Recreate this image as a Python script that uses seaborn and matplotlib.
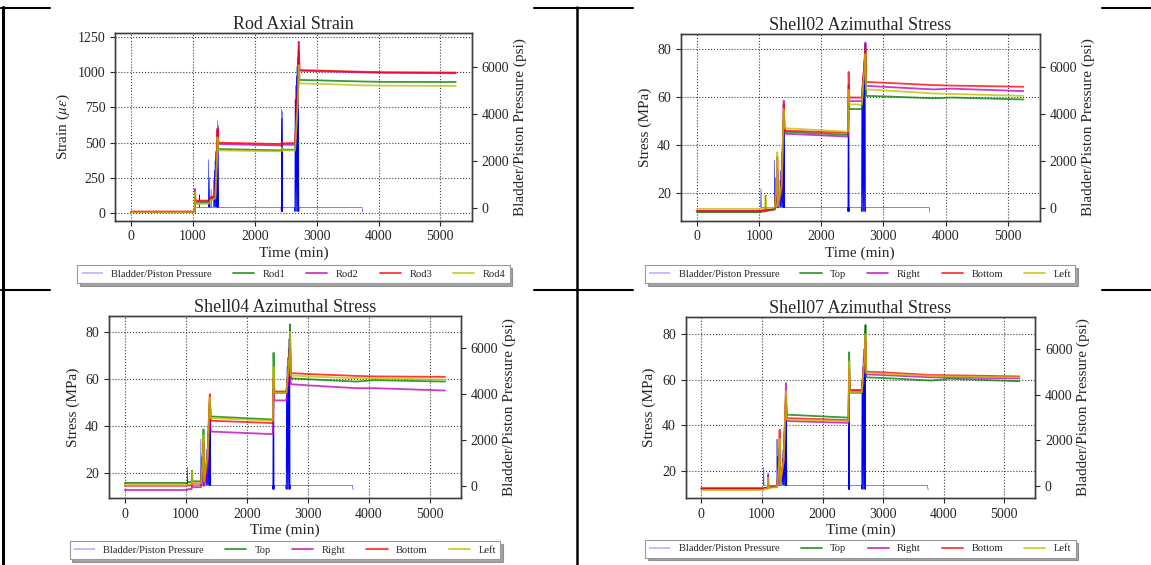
import numpy as np
import pandas as pd
import matplotlib
matplotlib.use("Agg")
import matplotlib.pyplot as plt
from matplotlib.lines import Line2D
import seaborn as sns

# time axis shared by all gauge traces (min)
time_min = [0, 1028, 1032, 1040, 1098, 1102, 1110, 1250, 1285, 1292, 1300, 1360, 1388,
            1395, 1410, 2430, 2440, 2452, 2650, 2700, 2710, 2722, 3000, 3800, 4100, 5250]

# Rod axial strain (micro strain)
rod1 = [8, 8, 110, 70, 70, 80, 72, 75, 90, 100, 95, 110, 400,
        560, 455, 445, 470, 450, 450, 850, 1080, 945, 942, 933, 931, 930]
rod2 = [8, 8, 170, 82, 82, 90, 83, 85, 100, 110, 105, 125, 450,
        590, 490, 480, 500, 485, 485, 900, 1150, 1010, 1007, 998, 995, 992]
rod3 = [12, 12, 130, 88, 88, 95, 88, 90, 105, 115, 110, 135, 480,
        600, 500, 490, 510, 495, 498, 950, 1215, 1015, 1012, 1002, 1000, 997]
rod4 = [7, 7, 150, 65, 65, 75, 66, 68, 85, 95, 90, 105, 380,
        540, 445, 438, 465, 445, 445, 820, 1050, 920, 917, 906, 904, 902]

# Shell02 azimuthal stress (MPa)
s02_top = [11.9, 11.9, 12.0, 12.2, 12.2, 14.0, 12.4, 13.0, 20.0, 28.0, 13.8, 20.0, 42.0,
           50.0, 45.5, 44.2, 60.0, 55.0, 55.0, 75.0, 82.0, 60.5, 60.3, 59.5, 59.8, 59.0]
s02_right = [12.5, 12.5, 12.6, 12.7, 12.7, 14.0, 12.8, 13.2, 22.0, 30.0, 14.0, 21.0, 45.0,
             58.5, 44.7, 43.5, 65.0, 58.3, 58.3, 77.0, 82.8, 64.7, 64.3, 63.2, 63.5, 62.5]
s02_bottom = [12.3, 12.3, 12.4, 12.6, 12.6, 14.0, 12.7, 13.3, 24.0, 35.0, 14.2, 22.0, 46.0,
              57.0, 46.0, 45.0, 70.5, 59.8, 59.8, 76.0, 80.0, 66.3, 66.0, 65.0, 64.8, 64.3]
s02_left = [13.3, 13.3, 13.4, 13.4, 13.4, 19.0, 13.5, 13.8, 25.0, 37.0, 14.5, 23.0, 48.0,
            55.0, 47.0, 45.5, 63.0, 57.0, 56.8, 74.0, 78.0, 63.2, 62.8, 61.5, 61.3, 60.5]

# Shell04 azimuthal stress (MPa)
s04_top = [15.8, 15.8, 15.9, 16.2, 16.2, 21.0, 16.5, 16.5, 30.0, 38.5, 17.0, 28.0, 48.0,
           50.0, 44.0, 42.7, 71.0, 54.0, 54.0, 70.0, 83.1, 60.2, 59.8, 58.8, 59.4, 58.8]
s04_right = [12.8, 12.8, 12.9, 13.2, 13.2, 14.5, 14.0, 14.0, 20.0, 22.0, 14.5, 22.0, 45.0,
             48.0, 37.6, 36.5, 55.0, 50.8, 50.8, 65.0, 75.0, 57.7, 57.2, 56.0, 56.0, 55.0]
s04_bottom = [14.6, 14.6, 14.7, 14.8, 14.8, 17.0, 15.5, 15.5, 25.0, 33.0, 16.0, 26.0, 50.0,
              53.5, 42.2, 41.2, 60.0, 54.6, 54.6, 68.0, 76.0, 62.4, 62.0, 61.2, 61.0, 60.8]
s04_left = [14.9, 14.9, 15.0, 15.2, 15.2, 20.5, 15.6, 15.6, 27.0, 36.0, 16.5, 27.0, 49.0,
            52.0, 43.3, 42.2, 65.0, 54.0, 54.0, 70.0, 80.0, 61.4, 61.0, 60.2, 60.2, 59.6]

# Shell07 azimuthal stress (MPa)
s07_top = [12.0, 12.0, 12.1, 12.3, 12.3, 13.5, 12.6, 13.0, 22.0, 30.0, 14.0, 25.0, 46.0,
           50.0, 44.6, 43.3, 72.0, 54.2, 54.2, 72.0, 84.0, 61.0, 60.7, 59.6, 60.4, 59.3]
s07_right = [12.2, 12.2, 12.3, 12.4, 12.4, 18.0, 12.7, 13.0, 22.0, 28.0, 14.0, 24.0, 47.0,
             58.5, 41.8, 41.0, 62.0, 55.0, 55.0, 72.0, 78.0, 62.3, 62.0, 61.0, 61.0, 60.5]
s07_bottom = [12.3, 12.3, 12.4, 12.5, 12.5, 14.0, 12.8, 13.2, 25.0, 38.0, 14.2, 25.0, 48.0,
              52.0, 43.1, 42.2, 65.0, 55.5, 55.5, 72.0, 77.0, 63.5, 63.2, 62.0, 61.9, 61.4]
s07_left = [11.5, 11.5, 11.6, 12.0, 12.0, 17.0, 12.4, 12.8, 24.0, 34.0, 14.0, 25.0, 48.0,
            55.0, 42.5, 41.7, 68.0, 54.5, 54.5, 72.0, 80.0, 63.0, 62.6, 61.6, 61.4, 61.0]

# bladder / piston pressure (psi), same record on every panel
press_time = [1025, 1030, 1034, 1098, 1101, 1105, 1245, 1249, 1253, 1262, 1266, 1270,
              1288, 1292, 1296, 1330, 1335, 1340, 1345, 1350, 1355, 1360, 1365, 1370,
              1375, 1380, 1384, 1388, 1392, 1396, 1400, 1404, 1408, 1412,
              2422, 2426, 2430, 2434, 2438, 2442, 2446, 2450, 2454,
              2640, 2645, 2650, 2655, 2660, 2665, 2670, 2675, 2680, 2685, 2690, 2695,
              2700, 2704, 2708, 2712, 2716, 3735, 3745]
press_psi = [20, 820, 20, 20, 560, 20, 20, 2050, 20, 20, 1300, 20,
             20, 800, 20, 20, 1200, 20, 1600, 20, 2000, 20, 2400, 20,
             2800, 20, 3100, 20, 3400, 20, 3700, 20, 3500, 20,
             20, -150, 4200, -150, 3800, -150, 4100, -150, 20,
             20, -150, 4600, -150, 5200, -150, 5600, -150, 6000, -150, 6400, -150,
             6800, -150, 7050, -150, 20, 20, -180]

# plain matplotlib colours written as hex (seaborn remaps the one-letter codes)
gauge_colors = ["#008000", "#bf00bf", "#ff0000", "#bfbf00"]
press_color = "#0000ff"
shell_names = ["Top", "Right", "Bottom", "Left"]

sns.set_theme(style="ticks", rc={"axes.edgecolor": "0.25", "axes.linewidth": 1.0,
                                 "xtick.color": "0.15", "ytick.color": "0.15"})
plt.rcParams["font.family"] = ["Liberation Serif", "DejaVu Serif"]
plt.rcParams["mathtext.fontset"] = "stix"

W, H = 1151, 565
fig = plt.figure(figsize=(W / 100, H / 100), dpi=100)
fig.patch.set_facecolor("white")


def px_rect(left, top, right, bottom):
    return [left / W, 1 - bottom / H, (right - left) / W, (bottom - top) / H]


def draw_panel(rect, title, ylabel, names, values, yticks, leg_y):
    ax = fig.add_axes(rect)
    ax2 = ax.twinx()
    sns.lineplot(x=press_time, y=press_psi, ax=ax2, color=press_color, lw=0.35,
                 estimator=None, sort=False)
    df = pd.DataFrame({"Time": time_min * len(names),
                       "Value": sum(values, []),
                       "Series": np.repeat(names, len(time_min))})
    sns.lineplot(data=df, x="Time", y="Value", hue="Series", hue_order=names,
                 palette=dict(zip(names, gauge_colors)), ax=ax, estimator=None,
                 sort=False, lw=1.3, alpha=0.78, legend=False)
    ax.set_zorder(ax2.get_zorder() + 1)
    ax.patch.set_visible(False)

    ax.grid(True, linestyle=":", color="0.25", linewidth=0.8)
    ax2.grid(False)
    ax.set_xticks([0, 1000, 2000, 3000, 4000, 5000])
    ax.set_yticks(yticks)
    ax2.set_yticks([0, 2000, 4000, 6000])
    for a in (ax, ax2):
        a.tick_params(labelsize=10, length=3.5, width=0.8)
        for s in a.spines.values():
            s.set_visible(True)
    ax.set_title(title, fontsize=13, pad=3)
    ax.set_xlabel("Time (min)", fontsize=11, labelpad=2)
    ax.set_ylabel(ylabel, fontsize=11)
    ax2.set_ylabel("Bladder/Piston Pressure (psi)", fontsize=11, labelpad=3)

    handles = ax2.get_lines()[:1] + ax.get_lines()[:4]
    labels = ["Bladder/Piston Pressure"] + names
    leg = ax.legend(handles, labels, loc="upper center", bbox_to_anchor=(0.5, leg_y),
                    ncol=5, fontsize=7.6, shadow=True, fancybox=False, framealpha=1,
                    edgecolor="0.6", borderaxespad=0)
    leg.get_frame().set_linewidth(0.8)
    return ax


draw_panel(px_rect(115, 33.3, 472, 220.7), "Rod Axial Strain", r"Strain ($\mu\varepsilon$)",
           ["Rod1", "Rod2", "Rod3", "Rod4"], [rod1, rod2, rod3, rod4],
           [0, 250, 500, 750, 1000, 1250], -0.236)
draw_panel(px_rect(680.7, 34, 1039.6, 220.7), "Shell02 Azimuthal Stress", "Stress (MPa)",
           shell_names, [s02_top, s02_right, s02_bottom, s02_left],
           [20, 40, 60, 80], -0.237)
draw_panel(px_rect(108.7, 316, 461, 498.3), "Shell04 Azimuthal Stress", "Stress (MPa)",
           shell_names, [s04_top, s04_right, s04_bottom, s04_left],
           [20, 40, 60, 80], -0.234)
draw_panel(px_rect(685.5, 316.7, 1035.2, 498.3), "Shell07 Azimuthal Stress", "Stress (MPa)",
           shell_names, [s07_top, s07_right, s07_bottom, s07_left],
           [20, 40, 60, 80], -0.229)


# table borders around the four pictures
def hline(y, x0, x1, lw):
    fig.add_artist(Line2D([x0 / W, x1 / W], [1 - y / H, 1 - y / H], color="black",
                          lw=lw, zorder=-2))


def vline(x, y0, y1, lw):
    fig.add_artist(Line2D([x / W, x / W], [1 - y0 / H, 1 - y1 / H], color="black",
                          lw=lw, zorder=-2))


vline(2.5, 6.5, 565, 2.2)
vline(577, 6.5, 565, 1.8)
for y in (7.5, 289.5):
    hline(y, 1, 50, 1.5)
    hline(y, 534, 633, 1.5)
    hline(y, 1102, 1151, 1.5)

fig.savefig("out.png", dpi=100, facecolor="white")
